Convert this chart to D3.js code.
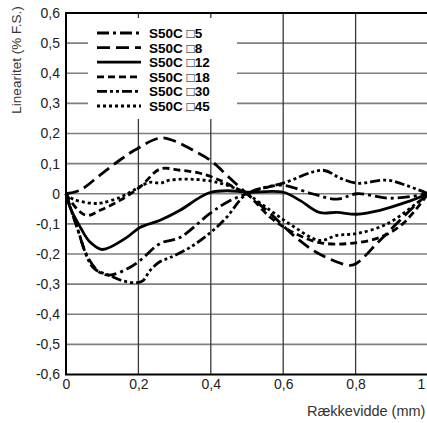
<!DOCTYPE html>
<html><head><meta charset="utf-8">
<script src="https://cdn.jsdelivr.net/npm/d3@7"></script>
<style>
html,body{margin:0;padding:0;background:#fff;}
svg{display:block;}
text{font-family:"Liberation Sans",Arial,Helvetica,sans-serif;}
</style></head>
<body>
<svg id="chart" width="427" height="423"></svg>
<script>
// ---- data ----
const xTicks = [0, 0.2, 0.4, 0.6, 0.8, 1];
const xTickLabels = ["0", "0,2", "0,4", "0,6", "0,8", "1"];
const yTicks = [-0.6, -0.5, -0.4, -0.3, -0.2, -0.1, 0, 0.1, 0.2, 0.3, 0.4, 0.5, 0.6];
const yTickLabels = ["-0,6", "-0,5", "-0,4", "-0,3", "-0,2", "-0,1", "0", "0,1", "0,2", "0,3", "0,4", "0,5", "0,6"];
const seriesNames = ["S50C \u25A15", "S50C \u25A18", "S50C \u25A112", "S50C \u25A118", "S50C \u25A130", "S50C \u25A145"];

const s5 = [[0,0],[0.03,-0.11],[0.06,-0.21],[0.094,-0.262],[0.12,-0.27],[0.168,-0.25],[0.204,-0.222],[0.26,-0.165],[0.315,-0.145],[0.398,-0.065],[0.45,-0.025],[0.5,0],[0.55,0.02],[0.6,0.028],[0.68,0],[0.749,-0.018],[0.804,0],[0.895,-0.015],[1,0]];
const s8 = [[0,0],[0.039,0.012],[0.094,0.062],[0.149,0.112],[0.19,0.145],[0.26,0.185],[0.3,0.175],[0.35,0.145],[0.4,0.11],[0.45,0.055],[0.5,0],[0.564,-0.065],[0.63,-0.14],[0.7,-0.2],[0.785,-0.238],[0.804,-0.23],[0.867,-0.155],[0.959,-0.045],[1,0]];
const s12 = [[0,0],[0.011,-0.045],[0.039,-0.11],[0.066,-0.16],[0.1,-0.185],[0.168,-0.145],[0.204,-0.112],[0.26,-0.088],[0.315,-0.055],[0.37,-0.012],[0.4,0.005],[0.445,0.01],[0.5,0.005],[0.6,0.005],[0.646,-0.022],[0.7,-0.062],[0.749,-0.062],[0.804,-0.068],[0.867,-0.055],[0.94,-0.028],[1,0]];
const s18 = [[0,0],[0.03,-0.05],[0.058,-0.072],[0.094,-0.055],[0.149,-0.022],[0.204,0.022],[0.26,0.082],[0.315,0.078],[0.37,0.068],[0.425,0.045],[0.48,0.012],[0.5,0],[0.564,-0.078],[0.63,-0.13],[0.7,-0.162],[0.785,-0.165],[0.867,-0.145],[0.93,-0.1],[1,0]];
const s30 = [[0,0],[0.03,-0.11],[0.075,-0.245],[0.122,-0.272],[0.16,-0.29],[0.196,-0.295],[0.213,-0.288],[0.232,-0.255],[0.26,-0.225],[0.287,-0.212],[0.343,-0.178],[0.406,-0.122],[0.444,-0.078],[0.5,0],[0.6,0.035],[0.71,0.078],[0.757,0.052],[0.804,0.035],[0.887,0.045],[0.94,0.028],[1,0]];
const s45 = [[0,0],[0.02,-0.018],[0.075,-0.032],[0.1,-0.03],[0.149,-0.012],[0.196,0.018],[0.232,0.038],[0.26,0.035],[0.287,0.045],[0.35,0.048],[0.417,0.038],[0.48,0.012],[0.5,0],[0.564,-0.055],[0.63,-0.11],[0.7,-0.155],[0.749,-0.138],[0.804,-0.132],[0.887,-0.1],[0.97,-0.03],[1,0]];

const seriesData = [s5, s8, s12, s18, s30, s45];
const dashes = ["12,4,3,4", "13,6", null, "7,4", "10,3,3,3,3,3", "3,3"];

// ---- layout ----
const svg = d3.select("#chart");
const L = 66, T = 13, R = 428, B = 374.5;
const x = d3.scaleLinear().domain([0, 1]).range([L, R]);
const y = d3.scaleLinear().domain([-0.6, 0.6]).range([B, T]);

// grid
svg.append("g").selectAll("line").data(yTicks.filter(v => Math.abs(v) < 0.55))
  .join("line")
  .attr("x1", L).attr("x2", R).attr("y1", d => y(d)).attr("y2", d => y(d))
  .attr("stroke", "#7f7f7f").attr("stroke-width", 1.6);
svg.append("g").selectAll("line").data(xTicks.filter(v => v > 0 && v < 1))
  .join("line")
  .attr("y1", T).attr("y2", B).attr("x1", d => x(d)).attr("x2", d => x(d))
  .attr("stroke", "#3a3a3a").attr("stroke-width", 1.3);

// frame
svg.append("rect").attr("x", L).attr("y", T).attr("width", R - L).attr("height", B - T)
  .attr("fill", "none").attr("stroke", "#000").attr("stroke-width", 2);

// legend box
const lg = svg.append("g");
lg.append("rect").attr("x", 88).attr("y", 18).attr("width", 149).attr("height", 101).attr("fill", "#fff");
seriesNames.forEach((name, i) => {
  const ly = 33 + i * 14.6;
  lg.append("line").attr("x1", 97).attr("x2", 141).attr("y1", ly).attr("y2", ly)
    .attr("stroke", "#000").attr("stroke-width", 2.8)
    .attr("stroke-dasharray", dashes[i]);
  lg.append("text").attr("x", 149).attr("y", ly + 4.9).text(name)
    .attr("font-size", 13.5).attr("font-weight", "bold").attr("fill", "#000");
});

// axes
const xAxis = d3.axisBottom(x).tickValues(xTicks).tickSize(0).tickPadding(5)
  .tickFormat((d, i) => xTickLabels[i]);
const gx = svg.append("g").attr("transform", `translate(0,${B})`).call(xAxis);
gx.select(".domain").remove();
gx.selectAll("text").attr("font-size", 14).attr("fill", "#222")
  .style("font-family", '"Liberation Sans",Arial,sans-serif');
gx.selectAll(".tick").filter(d => d === 1).select("text").attr("dx", -7);

const yAxis = d3.axisLeft(y).tickValues(yTicks).tickSize(0).tickPadding(6)
  .tickFormat((d, i) => yTickLabels[i]);
const gy = svg.append("g").attr("transform", `translate(${L},0)`).call(yAxis);
gy.select(".domain").remove();
gy.selectAll("text").attr("font-size", 14).attr("fill", "#222")
  .style("font-family", '"Liberation Sans",Arial,sans-serif');

// curves
const line = d3.line().x(d => x(d[0])).y(d => y(d[1])).curve(d3.curveCatmullRom.alpha(0.5));
svg.append("g").selectAll("path").data(seriesData).join("path")
  .attr("d", d => line(d))
  .attr("fill", "none").attr("stroke", "#000").attr("stroke-width", 2.8)
  .attr("stroke-linejoin", "round")
  .attr("stroke-dasharray", (d, i) => dashes[i]);

// titles
svg.append("text").attr("transform", "translate(21,60) rotate(-90)")
  .attr("text-anchor", "middle").attr("font-size", 13.5).attr("fill", "#333")
  .text("Linearitet (% F.S.)");
svg.append("text").attr("x", 307).attr("y", 416).attr("font-size", 14.5).attr("fill", "#333")
  .text("Rækkevidde (mm)");
</script>
</body></html>
